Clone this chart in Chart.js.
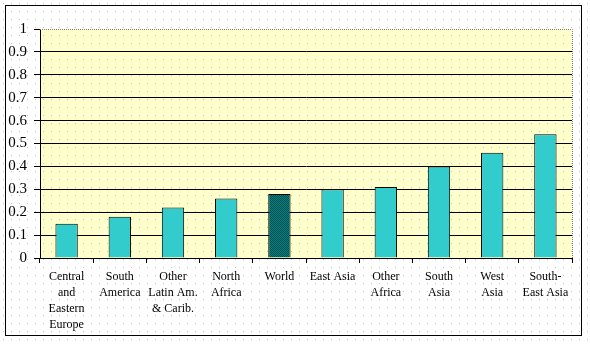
<!DOCTYPE html>
<html>
<head>
<meta charset="utf-8">
<script src="https://cdn.jsdelivr.net/npm/chart.js@4/dist/chart.umd.min.js"></script>
<style>
  html, body { margin: 0; padding: 0; background: #fff; }
  #wrap { width: 590px; height: 344px; }
</style>
</head>
<body>
<div id="wrap"><canvas id="chart" width="590" height="344"></canvas></div>
<script>
// data
const regions = [
  ["Central", "and", "Eastern", "Europe"],
  ["South", "America"],
  ["Other", "Latin Am.", "& Carib."],
  ["North", "Africa"],
  ["World"],
  ["East Asia"],
  ["Other", "Africa"],
  ["South", "Asia"],
  ["West", "Asia"],
  ["South-", "East Asia"]
];
const values = [0.15, 0.18, 0.22, 0.26, 0.28, 0.30, 0.31, 0.40, 0.46, 0.54];
const yTicks = [0, 0.1, 0.2, 0.3, 0.4, 0.5, 0.6, 0.7, 0.8, 0.9, 1];

/* helpers: small canvas patterns */
function dotPattern(bg) {
  const c = document.createElement("canvas");
  c.width = 8; c.height = 8;
  const g = c.getContext("2d");
  g.fillStyle = bg;
  g.fillRect(0, 0, 8, 8);
  g.fillStyle = "#c4c4c4";
  g.fillRect(3, 3, 1, 1);
  return g.createPattern(c, "repeat");
}

function hatchPattern() {
  const c = document.createElement("canvas");
  c.width = 2; c.height = 2;
  const g = c.getContext("2d");
  g.fillStyle = "#008080";
  g.fillRect(0, 0, 2, 2);
  g.fillStyle = "#004f4f";
  g.fillRect(0, 0, 1, 1);
  g.fillRect(1, 1, 1, 1);
  return g.createPattern(c, "repeat");
}

const ctx = document.getElementById("chart").getContext("2d");
const plainFill = "#33CCCC";
const worldFill = hatchPattern();
const barColors = regions.map(r => r[0] === "World" ? worldFill : plainFill);

/* backgrounds + frame */
const frame = {
  id: "frame",
  beforeDraw(chart) {
    const g = chart.ctx;
    const a = chart.chartArea;
    g.save();
    g.fillStyle = dotPattern("#ffffff");
    g.fillRect(0, 0, chart.width, chart.height);
    g.fillStyle = dotPattern("#FFFFCC");
    g.fillRect(a.left, a.top, a.right - a.left, a.bottom - a.top);
    g.restore();
  },
  afterDraw(chart) {
    const g = chart.ctx;
    const a = chart.chartArea;
    g.save();
    // plot area top/right border (grey dotted)
    g.strokeStyle = "#808080";
    g.setLineDash([1, 1]);
    g.lineWidth = 1;
    g.beginPath();
    g.moveTo(a.left, a.top + 0.5);
    g.lineTo(a.right + 0.5, a.top + 0.5);
    g.lineTo(a.right + 0.5, a.bottom);
    g.stroke();
    // outer frame
    g.setLineDash([]);
    g.strokeStyle = "#000";
    g.strokeRect(5.5, 5.5, 576, 330);
    g.restore();
  }
};

new Chart(ctx, {
  type: "bar",
  data: {
    labels: regions,
    datasets: [{
      data: values,
      backgroundColor: barColors,
      borderColor: "#000",
      borderWidth: 1,
      borderSkipped: "bottom",
      categoryPercentage: 1,
      barPercentage: 0.42
    }]
  },
  options: {
    responsive: false,
    animation: false,
    layout: { padding: { top: 29, right: 18, left: 0, bottom: 0 } },
    plugins: {
      legend: { display: false },
      tooltip: { enabled: false }
    },
    scales: {
      x: {
        offset: true,
        grid: {
          offset: true,
          drawOnChartArea: false,
          drawTicks: true,
          tickLength: 5,
          color: "#000"
        },
        border: { display: true, color: "#000" },
        ticks: {
          color: "#000",
          padding: 6,
          maxRotation: 0,
          autoSkip: false,
          font: { family: "Liberation Serif", size: 12, lineHeight: 1.33 }
        },
        afterFit: s => { s.height = 86; }
      },
      y: {
        min: 0,
        max: 1,
        afterBuildTicks: s => { s.ticks = yTicks.map(v => ({ value: v })); },
        grid: {
          color: c => c.tick && c.tick.value === 1 ? "rgba(0,0,0,0)" : "#000",
          tickColor: "#000",
          tickLength: 6
        },
        border: { display: true, color: "#000" },
        ticks: {
          color: "#000",
          padding: 7,
          callback: v => String(v),
          font: { family: "Liberation Serif", size: 15 }
        },
        afterFit: s => { s.width = 40; }
      }
    }
  },
  plugins: [frame]
});
</script>
</body>
</html>
